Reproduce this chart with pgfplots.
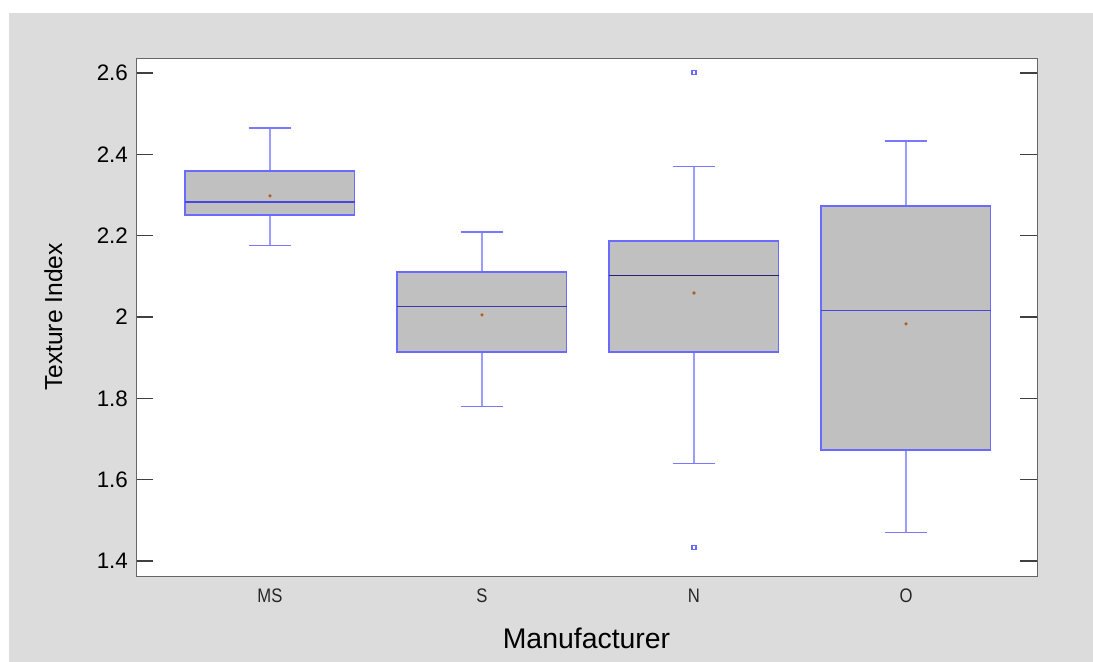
\documentclass[border=0pt]{standalone}
\usepackage{pgfplots}
\pgfplotsset{compat=1.18}
\usepackage{fontspec}
\setmainfont{Liberation Sans}
\newfontfamily\narrowfont[FakeStretch=0.85]{Liberation Sans}
\definecolor{bgc}{HTML}{DCDCDC}
\definecolor{boxfill}{HTML}{C0C0C0}
\definecolor{boxc}{HTML}{6A6AFF}
\definecolor{whc}{HTML}{9C9CFF}
\definecolor{medc}{HTML}{4848E0}
\definecolor{meanc}{HTML}{B06020}
% #1 position, #2 lower whisker, #3 Q1, #4 median, #5 Q3, #6 upper whisker, #7 median colour
\newcommand{\onebox}[7]{%
  \pgfmathsetmacro{\bl}{#1-0.4}\pgfmathsetmacro{\br}{#1+0.4}%
  \pgfmathsetmacro{\cl}{#1-0.1}\pgfmathsetmacro{\cr}{#1+0.1}%
  \addplot[draw=whc, line width=0.6pt] coordinates {(#1,#5) (#1,#6)};
  \addplot[draw=whc, line width=0.6pt] coordinates {(#1,#2) (#1,#3)};
  \addplot[draw=boxc!90!white, line width=0.6pt] coordinates {(\cl,#6) (\cr,#6)};
  \addplot[draw=boxc!90!white, line width=0.6pt] coordinates {(\cl,#2) (\cr,#2)};
  \addplot[draw=boxc, fill=boxfill, line width=0.7pt] coordinates {(\bl,#3) (\br,#3) (\br,#5) (\bl,#5)} --cycle;
  \addplot[draw=#7, line width=0.6pt] coordinates {(\bl,#4) (\br,#4)};
}
\begin{document}
\begin{tikzpicture}
\path[use as bounding box, fill=white] (-68pt,-43pt) rectangle (478.5pt,288pt);
\fill[bgc] (-63.5pt,-43pt) rectangle (478.5pt,281.5pt);
\begin{axis}[
  at={(0,0)}, anchor=south west, scale only axis,
  width=450.5pt, height=259pt,
  xmin=0.368, xmax=4.618, ymin=1.363, ymax=2.637,
  axis background/.style={fill=white},
  axis line style={draw=black!60},
  xtick={1,2,3,4},
  xticklabels={MS,S,N,O},
  ytick={1.4,1.6,1.8,2,2.2,2.4,2.6},
  tick pos=both, tick align=inside,
  major tick length=8.5pt,
  x tick style={draw=none},
  y tick style={draw=black!75, line width=0.6pt},
  /pgf/number format/assume math mode=true,
  /pgf/number format/fixed,
  yticklabel style={font=\fontsize{11.2}{13}\selectfont, xshift=-0.5pt},
  xticklabel style={font=\narrowfont\fontsize{9.8}{11}\selectfont, yshift=-3pt, text=black!85},
  xlabel={Manufacturer}, ylabel={Texture Index},
  every axis x label/.style={at={(axis description cs:0.5,-0.1409)}, anchor=base, font=\fontsize{14.2}{16}\selectfont},
  every axis y label/.style={at={(axis description cs:-0.0821,0.5)}, rotate=90, anchor=base, font=\fontsize{12.3}{14}\selectfont},
]
\onebox{1}{2.175}{2.251}{2.283}{2.359}{2.465}{medc}
\onebox{2}{1.779}{1.914}{2.025}{2.111}{2.209}{medc!80!black}
\onebox{3}{1.639}{1.914}{2.103}{2.187}{2.371}{medc!50!black}
\onebox{4}{1.469}{1.673}{2.015}{2.273}{2.433}{medc}
% means
\addplot[only marks, mark=*, mark size=0.6pt, color=meanc] coordinates {(1,2.298) (2,2.005) (3,2.059) (4,1.983)};
% outliers
\addplot[only marks, mark=square, mark size=1pt, color=boxc, line width=0.6pt] coordinates {(3,2.602) (3,1.434)};
\end{axis}
\end{tikzpicture}
\end{document}
